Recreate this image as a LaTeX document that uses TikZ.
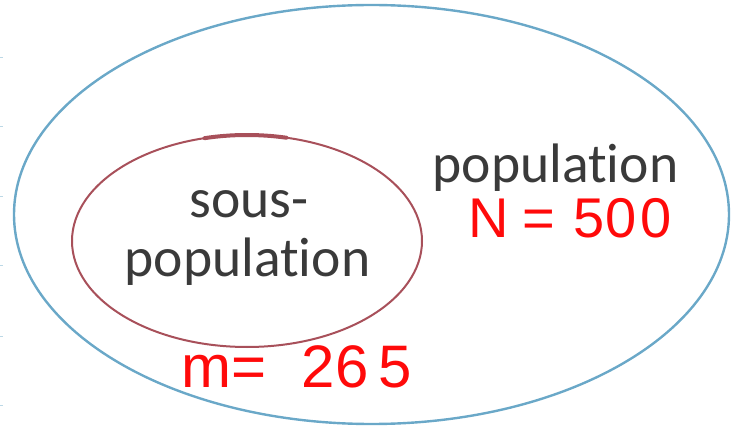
\documentclass[tikz,border=0pt]{standalone}
\usepackage{fontspec}
\setmainfont[Ligatures={NoCommon,NoDiscretionary}]{Carlito}
\newfontfamily\handfont{Liberation Sans}
\usetikzlibrary{shapes.geometric}
\definecolor{popblue}{HTML}{6AA8C8}
\definecolor{subred}{HTML}{A8505A}
\definecolor{labelgray}{HTML}{3A3A3A}
\definecolor{inkred}{HTML}{FF0A0A}
\tikzset{
  setline/.style={draw,ellipse,inner sep=0pt},
  setlabel/.style={text=labelgray,font=\fontsize{55.6}{59}\selectfont,anchor=base,inner sep=0pt},
  inknote/.style={text=inkred,font=\handfont\fontsize{56}{60}\selectfont,anchor=base west,inner sep=0pt}
}
\begin{document}
\begin{tikzpicture}[x=1pt,y=-1pt]
\useasboundingbox (0,0) rectangle (736,430);
% faint marks on the left edge
\foreach \y in {58,127,197,266,336,405}
  \draw[popblue!45,line width=1pt] (0,\y) -- (3,\y);
% the two sets
\node[setline,popblue,line width=2.4pt,minimum width=715pt,minimum height=419pt] (pop) at (371.5,214.5) {};
\node[setline,subred,line width=2pt,minimum width=350pt,minimum height=212pt] (sub) at (247,241) {};
\draw[subred,line width=4pt,line cap=round] (sub.center) ++(104:175 and -106) arc[start angle=104,end angle=77,x radius=175,y radius=-106];
% labels
\node[setlabel] (poplabel) at (555.5,183) {population};
\node[setlabel] (sublabel1) at (249,218) {sous-};
\node[setlabel] (sublabel2) at (247.5,277) {population};
% handwritten counts
\node[inknote] (bigN) at (468,238) {N\hspace{14pt}=\hspace{18pt}5\hspace{1pt}0\hspace{4pt}0};
\node[inknote,font=\handfont\fontsize{60}{62}\selectfont] (smalln) at (181,387) {m=\hspace{35pt}2\hspace{1pt}6\hspace{10pt}5};
\end{tikzpicture}
\end{document}
